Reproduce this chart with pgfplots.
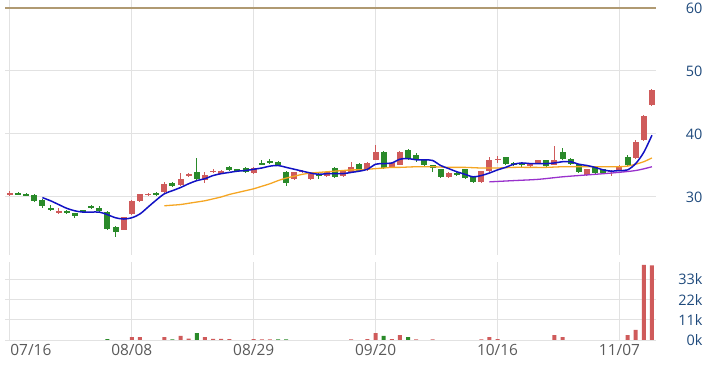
\documentclass[border=0pt]{standalone}
\usepackage{pgfplots}
\pgfplotsset{compat=1.18}
\usepackage{pgfplotstable}
\usepackage{fontspec}
\setmainfont{Open Sans}
\definecolor{upred}{HTML}{CF5B5B}
\definecolor{dngreen}{HTML}{2A8A2A}
\definecolor{mablue}{HTML}{1212C4}
\definecolor{maorange}{HTML}{F5A623}
\definecolor{mapurple}{HTML}{9932CC}
\definecolor{gridc}{HTML}{E2E2E2}
\definecolor{bandc}{HTML}{E6E6E6}
\definecolor{limitc}{HTML}{B09A72}
\definecolor{ylab}{HTML}{1F4A7C}
\definecolor{xlab}{HTML}{5A5A5A}

\pgfplotstableread{
i o h l c
0 30.3 30.9 30.2 30.6
6 27.5 28.3 27.3 27.8
14 24.8 26.9 24.7 26.8
15 27.3 29.5 27.2 29.4
16 29.3 30.5 29.2 30.4
17 30.3 30.7 30.1 30.5
19 30.8 32.3 30.7 32.0
21 31.9 33.8 31.8 32.8
22 33.4 33.8 33.2 33.7
24 32.7 33.9 32.2 33.5
25 33.9 34.4 33.8 34.2
26 33.7 34.3 33.6 34.2
30 33.8 34.7 33.7 34.6
35 32.8 34.0 32.7 33.9
36 33.9 34.3 33.8 34.2
37 32.8 33.9 32.7 33.8
39 33.3 34.1 33.2 34.0
41 33.3 34.3 33.2 34.2
42 34.0 35.5 33.9 34.8
44 34.3 35.5 34.2 35.4
45 35.9 38.3 35.8 37.2
47 34.8 35.5 34.7 35.4
48 35.1 37.3 35.0 37.2
54 33.1 33.9 33.0 33.8
58 32.3 34.2 32.2 34.1
59 34.1 36.3 34.0 35.9
60 35.8 36.5 35.4 36.1
64 34.9 35.4 34.8 35.3
65 35.3 35.9 35.2 35.8
67 35.1 38.1 35.0 35.9
71 33.5 34.5 33.3 34.4
74 33.9 34.3 33.4 34.2
75 34.3 35.0 34.2 34.9
77 36.2 39.0 36.0 38.8
78 39.0 43.0 38.9 42.9
79 44.6 47.2 44.4 47.0
}\upcandles

\pgfplotstableread{
i o h l c
1 30.7 30.8 30.4 30.4
2 30.5 30.6 30.2 30.2
3 30.3 30.4 29.2 29.3
4 29.5 29.6 28.3 28.6
5 28.3 28.7 27.8 27.9
7 27.7 27.9 27.3 27.4
8 27.4 27.5 26.7 27.0
9 27.9 28.0 27.6 27.6
10 28.5 28.7 28.1 28.2
11 28.3 28.6 27.7 27.8
12 27.6 27.7 24.8 24.9
13 25.3 25.4 23.7 24.4
18 30.7 30.8 30.2 30.4
20 32.2 32.3 31.6 31.7
23 34.0 36.2 32.6 32.8
27 34.8 34.9 34.2 34.3
28 34.4 34.5 34.0 34.1
29 34.6 34.7 33.9 34.0
31 35.4 35.8 35.1 35.1
32 35.7 36.1 35.3 35.4
33 35.6 35.7 34.9 35.0
34 34.0 34.1 31.8 32.2
38 33.7 33.9 32.8 33.4
40 34.6 34.7 33.1 33.2
43 35.3 35.4 34.1 34.2
46 37.2 37.3 34.5 34.6
49 37.5 37.6 36.0 36.1
50 36.6 37.0 35.6 36.0
51 35.9 36.0 34.9 35.0
52 35.0 35.1 34.0 34.6
53 34.4 34.5 33.0 33.1
55 33.8 33.9 33.4 33.5
56 34.4 34.5 32.9 33.0
57 33.2 33.3 32.2 32.3
61 36.3 36.4 35.1 35.2
62 35.4 35.5 34.9 35.1
63 35.4 35.5 34.8 35.0
66 35.8 35.9 34.8 34.9
68 37.2 37.8 36.0 36.1
69 36.1 36.2 35.1 35.2
70 35.2 35.3 33.8 33.9
72 34.7 34.8 33.7 33.8
73 34.4 34.5 33.7 33.8
76 36.4 36.6 34.9 35.0
}\dncandles

\pgfplotstableread{
i v
4 29.9
5 29.4
6 28.8
7 28.2
8 27.8
9 27.6
10 27.6
11 27.6
12 27.2
13 26.7
14 26.5
15 26.7
16 27.3
17 28.4
18 29.5
19 30.5
20 31.0
21 31.5
22 32.1
23 32.6
24 32.9
25 33.4
26 33.7
27 33.9
28 34.1
29 34.2
30 34.4
31 34.6
32 34.9
33 35.0
34 34.7
35 34.4
36 34.1
37 33.8
38 33.6
39 33.7
40 33.7
41 33.7
42 33.9
43 34.1
44 34.4
45 35.2
46 35.3
47 35.4
48 36.0
49 36.1
50 35.9
51 35.9
52 35.8
53 35.0
54 34.5
55 34.0
56 33.6
57 33.2
58 33.4
59 33.8
60 34.3
61 34.7
62 35.2
63 35.4
64 35.3
65 35.3
66 35.3
67 35.4
68 35.6
69 35.6
70 35.2
71 35.0
72 34.7
73 34.3
74 34.1
75 34.2
76 34.3
77 35.3
78 37.1
79 39.8
}\mafive

\pgfplotstableread{
i v
19 28.6
20 28.7
21 28.8
22 29.0
23 29.2
24 29.4
25 29.7
26 30.0
27 30.4
28 30.7
29 31.0
30 31.3
31 31.7
32 32.1
33 32.6
34 33.0
35 33.3
36 33.6
37 33.8
38 33.9
39 34.0
40 34.1
41 34.2
42 34.3
43 34.3
44 34.4
45 34.5
46 34.6
47 34.7
48 34.7
50 34.8
52 34.8
54 34.7
56 34.7
58 34.6
60 34.6
62 34.7
64 34.7
66 34.7
68 34.8
70 34.8
72 34.8
74 34.8
75 34.8
76 34.9
77 35.2
78 35.6
79 36.2
}\matwenty

\pgfplotstableread{
i v
59 32.4
62 32.6
65 32.8
68 33.2
71 33.5
74 33.8
77 34.2
79 34.8
}\masixty

\pgfplotstableread{
i v
15 1.5
16 1.5
19 1.5
21 2.2
22 0.7
24 1.5
25 0.6
26 0.6
27 0.5
30 0.5
31 0.4
32 0.4
42 0.4
44 0.5
45 3.7
47 0.5
48 2.7
50 0.3
52 0.3
58 0.4
59 1.5
60 0.5
67 2.7
68 1.5
76 2.7
77 5.5
78 41.0
79 40.7
}\upvol

\pgfplotstableread{
i v
12 0.5
20 0.4
23 3.7
33 0.3
34 0.4
46 2.2
49 1.5
}\dnvol

\pgfplotsset{
  candlewick/.style={forget plot, draw=none, mark=none,
    error bars/.cd, y dir=both, y explicit, error mark=none,
    error bar style={draw=#1, line width=1bp}},
  candlebody/.style={forget plot, draw=none, mark=none,
    error bars/.cd, y dir=both, y explicit, error mark=none,
    error bar style={draw=#1, line width=6bp}},
}

\begin{document}
\begin{tikzpicture}
\path[use as bounding box] (0,0) rectangle (710bp,367bp);
\begin{axis}[
  at={(5bp,112bp)}, anchor=south west,
  width=651bp, height=255bp, scale only axis,
  xmin=-0.6, xmax=79.5, ymin=20.79, ymax=61.27,
  axis line style={draw=none}, major tick length=0pt,
  xtick={0,15,30,45,60,75}, xticklabels={},
  ytick={30,40,50,60}, yticklabels={30,40,50,60},
  yticklabel pos=right,
  yticklabel style={anchor=east, xshift=50bp, font=\fontsize{14.5}{16}\selectfont, text=ylab},
  xmajorgrids, ymajorgrids, grid style={gridc, line width=1bp},
]
\addplot[limitc, line width=1.3bp, forget plot] coordinates {(-0.6,60) (79.5,60)};
\addplot[candlewick=upred] table[x=i, y=c, y error plus expr=\thisrow{h}-\thisrow{c}, y error minus expr=\thisrow{c}-\thisrow{l}] {\upcandles};
\addplot[candlewick=dngreen] table[x=i, y=c, y error plus expr=\thisrow{h}-\thisrow{c}, y error minus expr=\thisrow{c}-\thisrow{l}] {\dncandles};
\addplot[candlebody=upred] table[x=i, y expr=(\thisrow{o}+\thisrow{c})/2, y error expr=abs(\thisrow{c}-\thisrow{o})/2] {\upcandles};
\addplot[candlebody=dngreen] table[x=i, y expr=(\thisrow{o}+\thisrow{c})/2, y error expr=abs(\thisrow{c}-\thisrow{o})/2] {\dncandles};
\addplot[mapurple, line width=1.3bp, smooth] table[x=i, y=v] {\masixty};
\addplot[maorange, line width=1.3bp, smooth] table[x=i, y=v] {\matwenty};
\addplot[mablue, line width=1.5bp, smooth] table[x=i, y=v] {\mafive};
\end{axis}
\begin{axis}[
  at={(5bp,27bp)}, anchor=south west,
  width=651bp, height=78bp, scale only axis,
  xmin=-0.6, xmax=79.5, ymin=0, ymax=42.5,
  axis line style={draw=none}, major tick length=0pt,
  xtick={0,15,30,45,60,75},
  xticklabels={\hspace*{42bp}07/16, 08/08, 08/29, 09/20, 10/16, 11/07},
  xticklabel style={font=\fontsize{15.5}{17}\selectfont, text=xlab, yshift=-1bp},
  ytick={0,11,22,33}, yticklabels={0k,11k,22k,33k},
  yticklabel pos=right,
  yticklabel style={anchor=east, xshift=50bp, font=\fontsize{14.5}{16}\selectfont, text=ylab},
  xmajorgrids, ymajorgrids, grid style={gridc, line width=1bp},
]
\draw[bandc, line width=3.5bp] ([yshift=3.5bp]rel axis cs:0,1) -- ([yshift=3.5bp]rel axis cs:1,1);
\addplot[ybar, bar width=4bp, bar shift=0pt, fill=upred, draw=none] table[x=i, y=v] {\upvol};
\addplot[ybar, bar width=4bp, bar shift=0pt, fill=dngreen, draw=none] table[x=i, y=v] {\dnvol};
\end{axis}
\end{tikzpicture}
\end{document}
